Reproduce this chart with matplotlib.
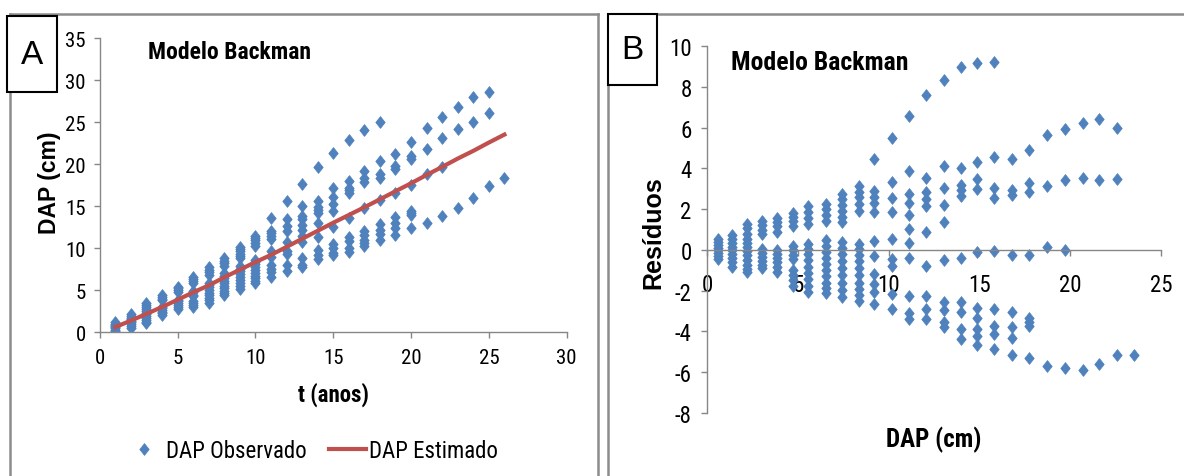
import matplotlib
matplotlib.use("Agg")
import matplotlib.pyplot as plt
from matplotlib.lines import Line2D
from matplotlib.patches import Rectangle
from matplotlib import font_manager

plt.rcParams['axes.unicode_minus'] = False

# Escolha de uma fonte estreita (estilo Arial Narrow) entre as instaladas
_fontes = font_manager.fontManager.ttflist
_preferidas = ['Liberation Sans Narrow', 'Arial Narrow', 'Roboto Condensed',
               'Open Sans Condensed', 'Fira Sans Condensed',
               'IBM Plex Sans Condensed', 'Archivo Narrow', 'Sofia Sans Condensed']


def _primeira(bold):
    for nome in _preferidas:
        pesos = [f.weight for f in _fontes if f.name == nome]
        pesos = [w if isinstance(w, int) else (700 if w == 'bold' else 400) for w in pesos]
        if pesos and (not bold or max(pesos) >= 600):
            return nome
    return 'Liberation Sans'


ESTREITA = [_primeira(False), 'Liberation Sans', 'DejaVu Sans']
ESTREITA_B = [_primeira(True), 'Liberation Sans', 'DejaVu Sans']
NORMAL = ['Liberation Sans', 'DejaVu Sans']
plt.rcParams['font.family'] = ESTREITA

# Idade (anos)
anos = list(range(1, 27))

# DAP estimado pelo modelo de Backman para cada idade (cm)
dap_estimado = [0.62, 1.39, 2.19, 3.01, 3.87, 4.75, 5.58, 6.54, 7.45, 8.35,
                9.21, 10.16, 11.13, 12.08, 13.04, 13.96, 14.88, 15.83, 16.79,
                17.74, 18.73, 19.69, 20.68, 21.60, 22.59, 23.54]

# Resíduos (observado - estimado) por idade (cm)
residuos = [
    [0.55, 0.4, 0.25, 0.1, 0.0, -0.15, -0.3, -0.45],
    [0.75, 0.55, 0.35, 0.15, 0.0, -0.2, -0.4, -0.6, -0.85],
    [1.25, 1.05, 0.8, 0.55, 0.35, 0.15, -0.05, -0.25, -0.5, -0.75, -0.95, -1.1],
    [1.4, 1.2, 1.0, 0.8, 0.05, -0.15, -0.35, -0.55, -0.75, -0.9],
    [1.55, 1.35, 1.15, 0.9, 0.0, -0.2, -0.4, -0.6, -0.85, -1.1],
    [1.8, 1.6, 1.4, 1.15, 0.2, 0.0, -0.25, -0.45, -1.0, -1.25, -1.5, -1.75],
    [2.15, 1.85, 1.55, 1.25, 0.3, 0.05, -0.2, -0.5, -0.85, -1.15, -1.45, -1.75, -2.05],
    [2.25, 2.0, 1.7, 1.4, 0.5, 0.2, -0.1, -0.4, -0.7, -1.0, -1.3, -1.6, -1.85, -2.1],
    [2.75, 2.5, 2.2, 1.9, 1.6, 1.35, 0.4, 0.1, -0.2, -0.55, -0.9, -1.25, -1.6, -1.95, -2.3],
    [3.15, 2.85, 2.6, 2.25, 1.9, 0.3, 0.05, -0.25, -0.55, -0.9, -1.25, -1.6, -1.9, -2.2, -2.5],
    [4.45, 2.9, 2.6, 2.3, 1.85, 0.45, -0.3, -1.2, -1.65, -2.05, -2.65],
    [5.5, 3.35, 2.55, 1.85, 0.55, -0.45, -0.8, -2.15, -2.9],
    [6.55, 3.85, 2.72, 2.3, 1.7, 1.03, 0.34, -0.41, -2.24, -3.1, -3.4],
    [7.6, 3.55, 2.85, 2.5, 2.15, 0.88, -0.77, -2.24, -2.89, -3.38],
    [8.35, 4.1, 3.05, 2.2, 1.35, -0.52, -2.56, -2.97, -3.55, -3.8],
    [8.95, 4.0, 3.2, 2.95, 2.65, -0.4, -2.56, -3.05, -3.87, -4.36],
    [9.15, 4.3, 3.5, 3.0, -0.08, -2.86, -3.35, -3.9, -4.2, -4.66],
    [9.2, 4.55, 3.05, 2.55, -0.03, -2.89, -3.71, -4.12, -4.85],
    [4.45, 2.95, 2.7, -0.24, -3.05, -3.79, -4.33, -5.15],
    [4.9, 3.3, 2.85, -0.24, -3.35, -3.55, -3.75, -5.3],
    [5.65, 3.15, 0.13, -5.7],
    [5.92, 3.45, 0.0, -5.8],
    [6.2, 3.52, -5.9],
    [6.4, 3.42, -5.6],
    [6.0, 3.5, -5.15],
    [-5.15],
]

titulo = "Modelo Backman"
rotulos_painel = ["A", "B"]
legenda = ["DAP Observado", "DAP Estimado"]

AZUL = "#4F81BD"
VERMELHO = "#C0504D"
CINZA_EIXO = "#868686"
CINZA_MOLDURA = "#8C8C8C"

# Losango um pouco mais alto que largo
LOSANGO = [(0, 1), (0.8, 0), (0, -1), (-0.8, 0), (0, 1)]
MS = 8.5

W, H = 1184, 477
fig = plt.figure(figsize=(W / 100, H / 100), dpi=100)


def fx(px):
    return px / W


def fy(py):
    return 1 - py / H


def estilo_eixo(ax, tick_pt):
    for s in ("top", "right"):
        ax.spines[s].set_visible(False)
    for s in ("left", "bottom"):
        ax.spines[s].set_color(CINZA_EIXO)
        ax.spines[s].set_linewidth(1.0)
    ax.tick_params(direction="out", length=4, width=1, color=CINZA_EIXO,
                   labelsize=tick_pt, labelcolor="black")


# Pontos observados e resíduos a partir dos dados por idade
t_obs, dap_obs, x_res, y_res = [], [], [], []
for t, est, res in zip(anos, dap_estimado, residuos):
    for r in res:
        t_obs.append(t)
        dap_obs.append(est + r)
        x_res.append(est)
        y_res.append(r)

# ---------- Painel A: DAP x idade ----------
axA = fig.add_axes([fx(99.7), fy(333.3), fx(566.7) - fx(99.7), fy(39.3) - fy(333.3)])
estilo_eixo(axA, 15)
axA.plot(t_obs, dap_obs, linestyle="none", marker=LOSANGO, ms=MS, color=AZUL,
         mec=AZUL, mew=0.5, zorder=2, label=legenda[0])
axA.plot(anos, dap_estimado, color=VERMELHO, lw=3, zorder=3, label=legenda[1])
axA.set_xlim(0, 30)
axA.set_ylim(0, 35)
axA.set_xticks(range(0, 31, 5))
axA.set_yticks(range(0, 36, 5))
axA.tick_params(axis="x", pad=7)
axA.tick_params(axis="y", pad=6)
axA.set_xlabel("t (anos)", fontsize=16.5, fontweight="bold", family=ESTREITA_B,
               va="center")
axA.xaxis.set_label_coords(0.5, -0.208)
axA.set_ylabel("DAP (cm)", fontsize=16.5, fontweight="bold", family=NORMAL,
               va="center")
axA.yaxis.set_label_coords(-0.108, 0.511)
axA.text(3.1, 33.4, titulo, fontsize=17, fontweight="bold", family=ESTREITA_B,
         va="center", ha="left")

h, l = axA.get_legend_handles_labels()
fig.legend(h, l, ncol=2, loc="center", bbox_to_anchor=(fx(312), fy(452)),
           frameon=False, fontsize=16.5, handlelength=1.6, handletextpad=0.15,
           columnspacing=1.0)

# ---------- Painel B: resíduos ----------
axB = fig.add_axes([fx(707), fy(414), fx(1161) - fx(707), fy(47) - fy(414)])
estilo_eixo(axB, 16.5)
axB.plot(x_res, y_res, linestyle="none", marker=LOSANGO, ms=MS, color=AZUL,
         mec=AZUL, mew=0.5, zorder=2)
axB.set_xlim(0, 25)
axB.set_ylim(-8, 10)
axB.set_xticks(range(0, 26, 5))
axB.set_yticks(range(-8, 11, 2))
axB.spines["bottom"].set_position(("data", 0))
axB.tick_params(axis="x", pad=13)
axB.tick_params(axis="y", pad=7)
axB.set_xlabel("DAP (cm)", fontsize=18, fontweight="bold", family=ESTREITA_B,
               va="center")
axB.xaxis.set_label_coords(0.5, -0.07)
axB.set_ylabel("Resíduos", fontsize=18, fontweight="bold", family=NORMAL,
               va="center")
axB.yaxis.set_label_coords(-0.119, 0.493)
axB.text(1.32, 9.2, titulo, fontsize=18.5, fontweight="bold", family=ESTREITA_B,
         va="center", ha="left")

# ---------- Molduras e rótulos dos painéis ----------
linhas = [
    ((10, 10), (15, 477)), ((10, 598), (15, 15)), ((598, 598), (15, 477)),
    ((608, 608), (15, 477)), ((608, 1184), (15, 15)),
]
for xs, ys in linhas:
    fig.add_artist(Line2D([fx(xs[0]), fx(xs[1])], [fy(ys[0]), fy(ys[1])],
                          color=CINZA_MOLDURA, lw=1.8))

caixas = [(7, 17, 57, 93), (608, 15, 657, 86)]
for (x0, y0, x1, y1), rot in zip(caixas, rotulos_painel):
    fig.add_artist(Rectangle((fx(x0), fy(y1)), fx(x1) - fx(x0), fy(y0) - fy(y1),
                             facecolor="white", edgecolor="black", lw=1.5,
                             transform=fig.transFigure, zorder=5))
    fig.text(fx((x0 + x1) / 2), fy((y0 + y1) / 2), rot, fontsize=24,
             ha="center", va="center", zorder=6, family=NORMAL)

fig.savefig("out.png", dpi=100)
